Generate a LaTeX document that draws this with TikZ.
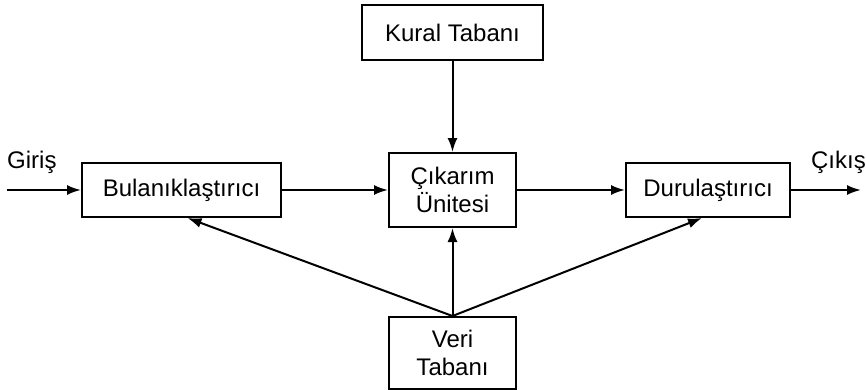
\documentclass[tikz,border=0pt]{standalone}
\usepackage{fontspec}
\setmainfont{Liberation Sans}
\usetikzlibrary{arrows.meta,positioning}
\tikzset{
  block/.style={draw=black,line width=2pt,fill=white,inner sep=0pt,
    font=\fontsize{24}{28}\selectfont,align=center},
  lbl/.style={inner sep=0pt,font=\fontsize{24}{28}\selectfont},
  arr/.style={-{Latex[length=14pt,width=10pt]},draw=black,line width=2pt},
}

\begin{document}
\begin{tikzpicture}[x=1pt,y=1pt]
    \useasboundingbox (0,0) rectangle (866,-389);
    \node[block,minimum width=127pt,minimum height=74pt] (cik) at (452.5,-190) {Çıkarım\\Ünitesi};
    \node[block,minimum width=181pt,minimum height=55pt,above=91pt of cik] (kural) {Kural Tabanı};
    \node[block,minimum width=127pt,minimum height=72pt,below=88pt of cik] (veri) {Veri\\Tabanı};
    \node[block,minimum width=199pt,minimum height=54pt,left=106pt of cik] (bulan) {Bulanıklaştırıcı};
    \node[block,minimum width=164pt,minimum height=54pt,right=108pt of cik] (durul) {Durulaştırıcı};
    \coordinate[left=74pt of bulan] (in);
    \coordinate[right=70pt of durul] (out);
    \node[lbl,anchor=base west] (giris) at ([yshift=22pt]in) {Giriş};
    \node[lbl,anchor=base east] (cikis) at ([shift={(5pt,22pt)}]out) {Çıkış};

    \draw[arr](in)--(bulan);\draw[arr](bulan)--(cik);\draw[arr](cik)--(durul);\draw[arr](durul)--(out);
    \draw[arr](kural)--(cik);\draw[arr](veri)--(cik);
    \draw[arr](veri.north)--([xshift=6pt]bulan.south);
    \draw[arr](veri.north)--([xshift=-6pt]durul.south);
  \end{tikzpicture}
\end{document}
